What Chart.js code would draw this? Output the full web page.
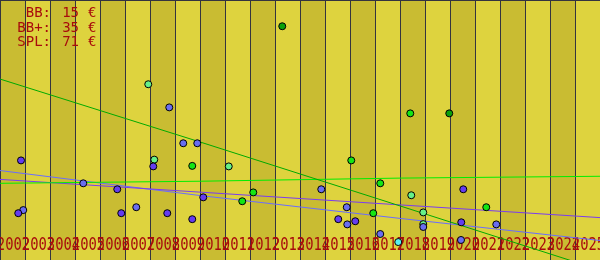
<!DOCTYPE html>
<html>
<head>
<meta charset="utf-8">
<script src="https://cdn.jsdelivr.net/npm/chart.js@4/dist/chart.umd.min.js"></script>
<style>
  html, body { margin: 0; padding: 0; background: #ded33e; }
  #wrap { width: 600px; height: 260px; }
</style>
</head>
<body>
<div id="wrap"><canvas id="c" width="600" height="260"></canvas></div>
<script>
// ---------- data ----------
const years = [2002, 2003, 2004, 2005, 2006, 2007, 2008, 2009, 2010, 2011, 2012, 2013,
               2014, 2015, 2016, 2017, 2018, 2019, 2020, 2021, 2022, 2023, 2024, 2025];

const legendNames  = ['BB:', 'BB+:', 'SPL:'];
const legendPrices = [15, 35, 71];
const currency = '€';

// purple points
const bbX = [2002.34, 2002.23, 2006.19, 2006.35, 2007.63, 2008.19, 2009.19, 2009.63, 2015.03, 2015.71, 2020.03, 2019.95];
const bbY = [38.3, 18.0, 27.2, 18.0, 36.0, 18.0, 15.7, 24.1, 15.7, 14.9, 27.2, 14.5];

// blue points
const bbPlusX = [2002.43, 2004.83, 2006.95, 2008.27, 2008.83, 2009.39, 2014.35, 2015.37, 2015.39, 2016.71, 2018.43, 2019.94, 2021.35];
const bbPlusY = [19.2, 29.5, 20.3, 58.7, 44.9, 44.9, 27.2, 20.3, 13.7, 10.0, 12.7, 7.7, 13.7];

// bright green points
const splX = [2009.19, 2011.19, 2011.63, 2015.55, 2016.43, 2016.71, 2017.91, 2020.95];
const splY = [36.2, 22.6, 26.0, 38.3, 18.0, 29.5, 56.4, 20.3];

// dark green points
const splDarkX = [2012.79, 2019.47];
const splDarkY = [89.9, 56.4];

// light green points
const lightX = [2007.43, 2007.67, 2010.65, 2017.95, 2018.43, 2018.43];
const lightY = [67.6, 38.6, 36.0, 24.9, 18.3, 13.8];

// cyan points
const cyanX = [2017.43];
const cyanY = [6.9];

// trend lines (read at x = 2001.5, 2009.5, 2017.5, 2025.5)
const trendX        = [2001.5, 2009.5, 2017.5, 2025.5];
const trendDarkY    = [69.6, 45.4, 20.8, -3.8];
const trendGreenY   = [29.5, 30.3, 31.5, 32.2];
const trendPurpleY  = [31.0, 26.1, 21.2, 16.3];
const trendBlueY    = [34.4, 24.8, 16.0, 7.5];

// ---------- helpers ----------
const pts = (xs, ys) => xs.map((v, i) => ({ x: v, y: ys[i] }));

const BAND_DARK = '#c9bc32';
const BAND_LIGHT = '#ded33e';
const GRID = '#34343f';
const TEXT = '#a80c0c';
const FONT = '14px "DejaVu Sans Mono", "Liberation Mono", monospace';
const TICK_FONT = '17px "DejaVu Sans Mono", "Liberation Mono", monospace';

function pointSet(label, xs, ys, color) {
  return {
    type: 'scatter', label, data: pts(xs, ys),
    pointRadius: 3.5, pointHoverRadius: 3.5,
    pointBackgroundColor: color, pointBorderColor: '#000', pointBorderWidth: 1,
    order: 0
  };
}
function lineSet(label, ys, color) {
  return {
    type: 'line', label, data: pts(trendX, ys),
    borderColor: color, borderWidth: 1, pointRadius: 0, fill: false,
    tension: 0, order: 10
  };
}

const bandsPlugin = {
  id: 'bands',
  beforeDatasetsDraw(chart) {
    const { ctx, chartArea: a, scales: { x } } = chart;
    ctx.save();
    years.forEach((yr, i) => {
      const l = Math.round(x.getPixelForValue(yr - 0.5));
      const r = Math.round(x.getPixelForValue(yr + 0.5));
      ctx.fillStyle = i % 2 === 0 ? BAND_DARK : BAND_LIGHT;
      ctx.fillRect(l, a.top, r - l, a.bottom - a.top);
    });
    ctx.fillStyle = GRID;
    years.forEach((yr) => {
      const l = Math.round(x.getPixelForValue(yr - 0.5));
      ctx.fillRect(l, a.top, 1, a.bottom - a.top);
    });
    ctx.fillRect(a.left, a.top, a.right - a.left, 1);
    // x tick labels (condensed, one band wide + one character)
    ctx.font = TICK_FONT;
    ctx.fillStyle = TEXT;
    ctx.textAlign = 'center';
    ctx.textBaseline = 'alphabetic';
    years.forEach((yr) => {
      const c = x.getPixelForValue(yr);
      const w = (x.getPixelForValue(yr + 1) - c) * 4 / 3;
      ctx.fillText(String(yr), c + 1, 250, w);
    });
    ctx.restore();
  },
  afterDraw(chart) {
    const { ctx } = chart;
    ctx.save();
    ctx.font = FONT;
    ctx.fillStyle = TEXT;
    ctx.textBaseline = 'alphabetic';
    legendNames.forEach((n, i) => {
      const by = 17 + i * 14.5;
      ctx.textAlign = 'right';
      ctx.fillText(n, 51, by);
      ctx.fillText(String(legendPrices[i]), 79, by);
      ctx.textAlign = 'left';
      ctx.fillText(currency, 88, by);
    });
    ctx.restore();
  }
};

new Chart(document.getElementById('c'), {
  type: 'scatter',
  data: {
    datasets: [
      lineSet('trend dark green', trendDarkY, '#00aa00'),
      lineSet('trend green', trendGreenY, '#00ee00'),
      lineSet('trend purple', trendPurpleY, '#7a3cf0'),
      lineSet('trend blue', trendBlueY, '#6a6cff'),
      pointSet('BB', bbX, bbY, '#643cf0'),
      pointSet('BB+', bbPlusX, bbPlusY, '#6a6ef0'),
      pointSet('SPL', splX, splY, '#14e614'),
      pointSet('SPL dark', splDarkX, splDarkY, '#0aa00a'),
      pointSet('light', lightX, lightY, '#66f088'),
      pointSet('cyan', cyanX, cyanY, '#5af0f0')
    ]
  },
  options: {
    responsive: false,
    animation: false,
    devicePixelRatio: 1,
    layout: { padding: 0, autoPadding: false },
    plugins: { legend: { display: false }, tooltip: { enabled: false } },
    events: [],
    scales: {
      x: { type: 'linear', min: 2001.5, max: 2025.5, display: false },
      y: { type: 'linear', min: 0, max: 100, display: false }
    }
  },
  plugins: [bandsPlugin]
});
</script>
</body>
</html>
